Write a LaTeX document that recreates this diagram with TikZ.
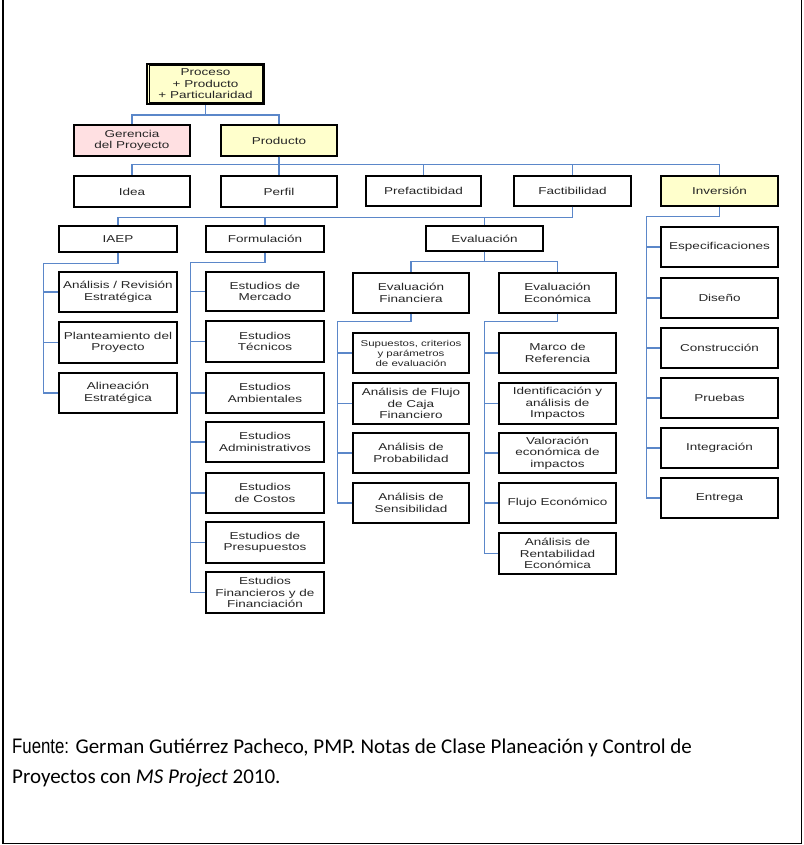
\documentclass[tikz,border=0pt]{standalone}
\usepackage{fontspec}
\setmainfont{Liberation Sans}
\newfontfamily\boxfont[FakeStretch=1.35]{Liberation Sans}
\newfontfamily\narrowfont[FakeStretch=0.8]{Liberation Sans}
\newfontfamily\calfont{Carlito}
\definecolor{connblue}{RGB}{91,135,201}
\definecolor{boxyellow}{RGB}{255,255,204}
\definecolor{boxpink}{RGB}{255,224,226}
\newcommand\bx[7][]{\node[box,#1,minimum width={(#5-#3)*1pt},minimum height={(#6-#4)*1pt}] (#2) at ({(#3+#5)/2},{(#4+#6)/2}) {#7};}
\begin{document}
\begin{tikzpicture}[x=1pt,y=-1pt,
  box/.style={draw=black, line width=1.4pt, fill=white, inner sep=0pt, align=center,
    font=\boxfont\fontsize{10}{11.5}\selectfont, text=black!85},
  small/.style={font=\boxfont\fontsize{8.5}{10}\selectfont},
  yel/.style={fill=boxyellow},
  pnk/.style={fill=boxpink},
  conn/.style={draw=connblue, line width=1.3pt},
  frame/.style={draw=black, line width=1.8pt},
  src/.style={anchor=base west, inner sep=0pt, font=\calfont\fontsize{21}{30}\selectfont, text=black}]
\useasboundingbox (0,0) rectangle (803,845);
% top levels
\bx[yel,line width=2.2pt]{proc}{147}{64}{264}{104}{Proceso\\+ Producto\\+ Particularidad}
\draw[black, line width=0.8pt] ([shift={(3,3)}]proc.north west) rectangle ([shift={(-3,-3)}]proc.south east);
\bx[pnk]{ger}{74}{125}{190}{156}{Gerencia\\del Proyecto}
\bx[yel]{prod}{221}{125}{337}{156}{Producto}
\bx{idea}{74}{176}{190}{207}{Idea}
\bx{perfil}{221}{176}{337}{207}{Perfil}
\bx{pref}{366}{176}{481}{206}{Prefactibidad}
\bx{fact}{514}{176}{631}{206}{Factibilidad}
\bx[yel]{inv}{661}{176}{778}{206}{Inversión}
\bx{iaep}{59}{226}{177}{252}{IAEP}
\bx{form}{206}{226}{324}{252}{Formulación}
\bx{eval}{426}{226}{543}{251}{Evaluación}
% IAEP children
\bx{an}{59}{272}{177}{312}{Análisis / Revisión\\Estratégica}
\bx{plant}{59}{322}{177}{363}{Planteamiento del\\Proyecto}
\bx{alin}{59}{373}{177}{413}{Alineación\\Estratégica}
% Formulacion children
\bx{merc}{206}{272}{324}{311}{Estudios de\\Mercado}
\bx{tec}{206}{321}{324}{362}{Estudios\\Técnicos}
\bx{amb}{206}{373}{324}{413}{Estudios\\Ambientales}
\bx{adm}{206}{422}{324}{462}{Estudios\\Administrativos}
\bx{cost}{206}{473}{324}{513}{Estudios\\de Costos}
\bx{pres}{206}{522}{324}{563}{Estudios de\\Presupuestos}
\bx{fin}{206}{572}{324}{613}{Estudios\\Financieros y de\\Financiación}
% Evaluacion
\bx{evf}{353}{273}{469}{313}{Evaluación\\Financiera}
\bx{eve}{499}{273}{616}{313}{Evaluación\\Económica}
\bx[small]{sup}{353}{333}{469}{373}{Supuestos, criterios\\y parámetros\\de evaluación}
\bx{fca}{353}{383}{469}{424}{Análisis de Flujo\\de Caja\\Financiero}
\bx{prob}{353}{433}{469}{473}{Análisis de\\Probabilidad}
\bx{sens}{353}{483}{469}{523}{Análisis de\\Sensibilidad}
\bx{marco}{499}{333}{616}{373}{Marco de\\Referencia}
\bx{ident}{499}{383}{616}{424}{Identificación y\\análisis de\\Impactos}
\bx{valor}{499}{433}{616}{473}{Valoración\\económica de\\impactos}
\bx{flujo}{499}{483}{616}{523}{Flujo Económico}
\bx{rent}{499}{533}{616}{574}{Análisis de\\Rentabilidad\\Económica}
% Inversion children
\bx{esp}{661}{227}{778}{267}{Especificaciones}
\bx{dis}{661}{278}{778}{318}{Diseño}
\bx{cons}{661}{328}{778}{368}{Construcción}
\bx{prue}{661}{378}{778}{418}{Pruebas}
\bx{integ}{661}{428}{778}{468}{Integración}
\bx{entr}{661}{478}{778}{518}{Entrega}
% connectors
\draw[conn] (proc.south) -- ++(0,10) -| (ger.north);
\draw[conn] (proc.south) -- ++(0,10) -| (prod.north);
\foreach \n in {idea,perfil,pref,fact,inv}
  \draw[conn] (prod.south) -- ++(0,8) -| (\n.north);
\foreach \n in {iaep,form,eval}
  \draw[conn] (fact.south) -- ++(0,11) -| (\n.north);
\foreach \n in {evf,eve}
  \draw[conn] (eval.south) -- ++(0,10) -| (\n.north);
% side buses
\draw[conn] (iaep.south) -- ++(0,11) -| ([xshift=-15pt]alin.west) -- (alin.west);
\foreach \n in {an,plant}
  \draw[conn] ([xshift=-15pt]\n.west) -- (\n.west);
\draw[conn] (form.south) -- ++(0,10) -| ([xshift=-15pt]fin.west) -- (fin.west);
\foreach \n in {merc,tec,amb,adm,cost,pres}
  \draw[conn] ([xshift=-15pt]\n.west) -- (\n.west);
\draw[conn] (evf.south) -- ++(0,8) -| ([xshift=-15pt]sens.west) -- (sens.west);
\foreach \n in {sup,fca,prob}
  \draw[conn] ([xshift=-15pt]\n.west) -- (\n.west);
\draw[conn] (eve.south) -- ++(0,8) -| ([xshift=-14pt]rent.west) -- (rent.west);
\foreach \n in {marco,ident,valor,flujo}
  \draw[conn] ([xshift=-14pt]\n.west) -- (\n.west);
\draw[conn] (inv.south) -- ++(0,10) -| ([xshift=-14pt]entr.west) -- (entr.west);
\foreach \n in {esp,dis,cons,prue,integ}
  \draw[conn] ([xshift=-14pt]\n.west) -- (\n.west);
% source text
\node[src] (src1) at (12,753.5) {{\narrowfont Fuente:} German Gutiérrez Pacheco, PMP. Notas de Clase Planeación y Control de};
\node[src] (src2) at (12,783) {Proyectos con \textit{MS Project} 2010.};
% frame
\draw[frame] (3,0) -- (3,843.5) -- (801.5,843.5) -- (801.5,0);
\end{tikzpicture}
\end{document}
